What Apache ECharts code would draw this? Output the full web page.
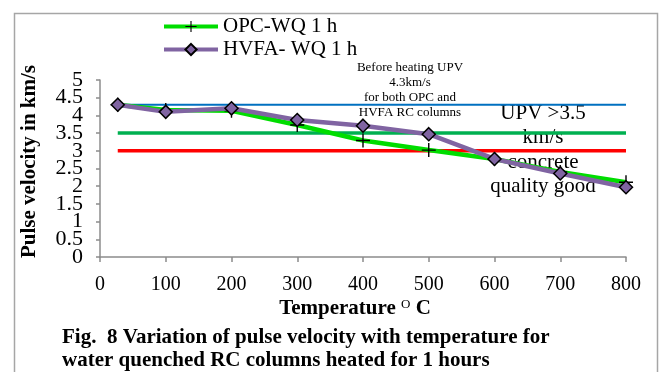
<!DOCTYPE html>
<html>
<head>
<meta charset="utf-8">
<script src="https://cdn.jsdelivr.net/npm/echarts@6/dist/echarts.min.js"></script>
<style>
  html, body { margin: 0; padding: 0; background: #fff; }
  #main { width: 661px; height: 372px; }
</style>
</head>
<body>
<div id="main"></div>
<script>
// data
var temps = [27, 100, 200, 300, 400, 500, 600, 700, 800];
var opcWQ = [4.3, 4.15, 4.13, 3.73, 3.29, 3.02, 2.77, 2.4, 2.11];
var hvfaWQ = [4.3, 4.1, 4.2, 3.87, 3.71, 3.47, 2.77, 2.36, 1.97];
var refTemps = [27, 800];
var refBefore = [4.3, 4.3];
var refGood = [3.5, 3.5];
var refLimit = [3, 3];

var font = '"Liberation Serif", "Times New Roman", serif';
var plusPath = 'path://M0,5.4h12v1.2h-12z M5.4,0h1.2v12h-1.2z';

function pairs(xs, ys) {
    return xs.map(function (x, i) { return [x, ys[i]]; });
}

var yLabelStyle = { fontFamily: font, fontSize: 22, color: '#000', margin: 17 };

var chart = echarts.init(document.getElementById('main'));

var option = {
    animation: false,
    grid: { left: 100, right: 35, top: 80, bottom: 115 },
    legend: {
        data: ['OPC-WQ 1 h', 'HVFA- WQ 1 h'],
        orient: 'vertical',
        left: 162,
        top: 16,
        padding: 0,
        itemWidth: 54,
        itemHeight: 14,
        itemGap: 2,
        lineStyle: { width: 4 },
        textStyle: { fontFamily: font, fontSize: 21, color: '#000' }
    },
    xAxis: {
        type: 'value',
        min: 0, max: 800, interval: 100,
        name: '{t|Temperature }{s|O}{t| C}',
        nameLocation: 'middle',
        nameGap: 41,
        nameTextStyle: {
            padding: [0, 16, 0, 0],
            rich: {
                t: { fontFamily: font, fontSize: 21, fontWeight: 'bold', color: '#000' },
                s: { fontFamily: font, fontSize: 13, color: '#000', verticalAlign: 'bottom', padding: [0, 0, 9, 0] }
            }
        },
        splitLine: { show: false },
        axisLine: { lineStyle: { color: '#8c8c8c', width: 1.5 } },
        axisTick: { length: 5, lineStyle: { color: '#8c8c8c', width: 1.5 } },
        axisLabel: { fontFamily: font, fontSize: 20, color: '#000', margin: 18 }
    },
    yAxis: [
        {
            // whole numbers
            type: 'value', position: 'left',
            min: 0, max: 5, interval: 1,
            name: 'Pulse velocity in km/s',
            nameLocation: 'middle',
            nameGap: 60,
            nameTextStyle: {
                fontFamily: font, fontSize: 21, fontWeight: 'bold', color: '#000',
                padding: [0, 0, 0, 14]
            },
            splitLine: { show: false },
            axisLine: { show: true, lineStyle: { color: '#8c8c8c', width: 1.5 } },
            axisTick: { show: true, length: 4, lineStyle: { color: '#8c8c8c', width: 1.5 } },
            axisLabel: Object.assign({ showMinLabel: true, showMaxLabel: true }, yLabelStyle)
        },
        {
            // half steps
            type: 'value', position: 'left', offset: 0,
            min: 0, max: 5, interval: 0.5,
            splitLine: { show: false },
            axisLine: { show: false },
            axisTick: { show: true, length: 4, lineStyle: { color: '#8c8c8c', width: 1.5 } },
            axisLabel: Object.assign({
                showMinLabel: false, showMaxLabel: false, hideOverlap: false,
                formatter: function (v) { return v % 1 === 0 ? '' : String(v); }
            }, yLabelStyle)
        }
    ],
    series: [
        {
            type: 'line', name: 'before', data: pairs(refTemps, refBefore),
            symbol: 'none', lineStyle: { color: '#0070c0', width: 2 }, z: 1
        },
        {
            type: 'line', name: 'good', data: pairs(refTemps, refGood),
            symbol: 'none', lineStyle: { color: '#00b050', width: 3.5 }, z: 1
        },
        {
            type: 'line', name: 'limit', data: pairs(refTemps, refLimit),
            symbol: 'none', lineStyle: { color: '#ff0000', width: 3.5 }, z: 1
        },
        {
            type: 'line', name: 'OPC-WQ 1 h', data: pairs(temps, opcWQ),
            symbol: plusPath, symbolSize: 14,
            lineStyle: { color: '#00dd00', width: 4.5 },
            itemStyle: { color: '#000' }, z: 3
        },
        {
            type: 'line', name: 'HVFA- WQ 1 h', data: pairs(temps, hvfaWQ),
            symbol: 'diamond', symbolSize: 13,
            lineStyle: { color: '#8064a2', width: 4.5 },
            itemStyle: { color: '#8064a2', borderColor: '#000', borderWidth: 1.5 }, z: 4
        }
    ],
    graphic: [
        {
            type: 'rect', left: 12, top: 11, z: -1,
            shape: { width: 643, height: 380 },
            style: { fill: 'none', stroke: '#a6a6a6', lineWidth: 1.5 }
        },
        {
            type: 'text', x: 410, y: 60,
            style: {
                text: 'Before heating UPV\n4.3km/s\nfor both OPC and\nHVFA RC columns',
                fontFamily: font, fontSize: 13, lineHeight: 15, align: 'center', fill: '#000'
            }
        },
        {
            type: 'text', x: 543, y: 101,
            style: {
                text: 'UPV >3.5\nkm/s\nconcrete\nquality good',
                fontFamily: font, fontSize: 21, lineHeight: 24.5, align: 'center', fill: '#000'
            }
        },
        {
            type: 'text', x: 62, y: 326,
            style: {
                text: 'Fig.  8 Variation of pulse velocity with temperature for\nwater quenched RC columns heated for 1 hours',
                fontFamily: font, fontSize: 21, fontWeight: 'bold', lineHeight: 23, fill: '#000'
            }
        }
    ]
};

chart.setOption(option);
</script>
</body>
</html>
